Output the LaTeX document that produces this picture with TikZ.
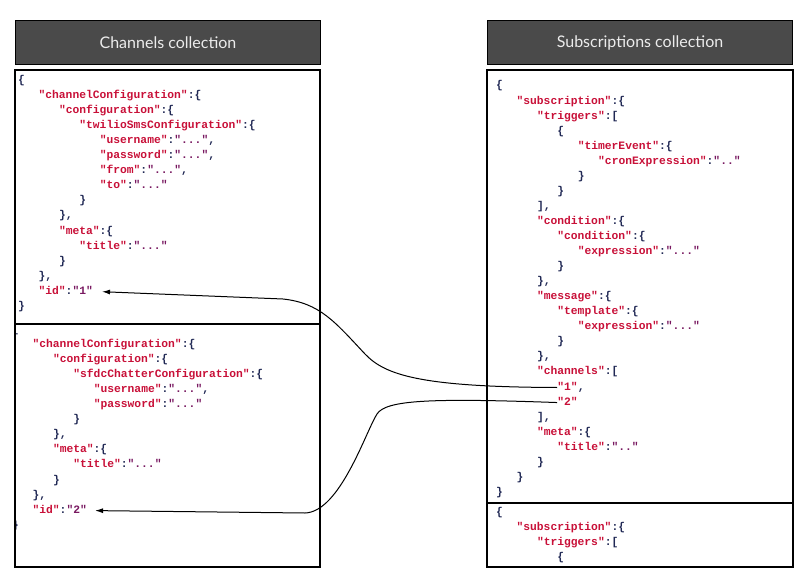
\documentclass[tikz,border=0pt]{standalone}
\usepackage{fontspec}
\setmonofont{Liberation Mono}
\newfontfamily\headfont{Lato}
\usetikzlibrary{arrows.meta}

\definecolor{jsonkey}{RGB}{200,16,56}
\definecolor{jsonval}{RGB}{120,24,96}
\definecolor{jsonpunct}{RGB}{32,40,84}
\definecolor{headfill}{RGB}{74,74,74}
\definecolor{headtext}{RGB}{236,236,236}

\newcommand\jkey[1]{\textcolor{jsonkey}{"#1"}}
\newcommand\jval[1]{\textcolor{jsonval}{"#1"}}

\tikzset{
  code/.style={anchor=west, inner sep=0pt, text height=7pt, text depth=2pt,
    font=\ttfamily\bfseries\fontsize{11.3}{13}\selectfont, text=jsonpunct},
  header/.style={draw=black, line width=1.5pt, fill=headfill, text=headtext,
    font=\headfont\fontsize{16}{18}\selectfont, minimum width=305pt,
    minimum height=44pt, inner sep=0pt},
  panel/.style={draw=black, line width=1.5pt},
  link/.style={line width=1pt, -{Latex[length=8pt,width=5pt]}},
}

\begin{document}
\begin{tikzpicture}[x=1pt,y=-1pt]
  \useasboundingbox (0,0) rectangle (808,588);

  % headers
  \node[header] (chhead) at (168,42.5) {Channels collection};
  \node[header] (subhead) at (640,42.5) {Subscriptions collection};

  % channels collection, first document
  \foreach \n/\txt [count=\i] in {0/\{, 1/{\jkey{channelConfiguration}:\{},
      2/{\jkey{configuration}:\{}, 3/{\jkey{twilioSmsConfiguration}:\{},
      4/{\jkey{username}:\jval{...},}, 4/{\jkey{password}:\jval{...},},
      4/{\jkey{from}:\jval{...},}, 4/{\jkey{to}:\jval{...}}, 3/\}, 2/{\},},
      2/{\jkey{meta}:\{}, 3/{\jkey{title}:\jval{...}}, 2/\}, 1/{\},},
      1/{\jkey{id}:\jval{1}}, 0/\}}
    \node[code] (twilio-\i) at ({18+\n*20.4},{81+(\i-1)*15.05}) {\txt};

  % channels collection, second document
  \begin{scope}
    \clip (15,324) rectangle (320,567);
    \foreach \n/\txt [count=\i] in {0/\{, 1/{\jkey{channelConfiguration}:\{},
        2/{\jkey{configuration}:\{}, 3/{\jkey{sfdcChatterConfiguration}:\{},
        4/{\jkey{username}:\jval{...},}, 4/{\jkey{password}:\jval{...}},
        3/\}, 2/{\},}, 2/{\jkey{meta}:\{}, 3/{\jkey{title}:\jval{...}},
        2/\}, 1/{\},}, 1/{\jkey{id}:\jval{2}}, 0/\}}
      \node[code] (sfdc-\i) at ({12+\n*20.4},{330+(\i-1)*15.05}) {\txt};
  \end{scope}

  % subscriptions collection, first document
  \foreach \n/\txt [count=\i] in {0/\{, 1/{\jkey{subscription}:\{},
      2/{\jkey{triggers}:[}, 3/\{, 4/{\jkey{timerEvent}:\{},
      5/{\jkey{cronExpression}:\jval{..}}, 4/\}, 3/\}, 2/{],},
      2/{\jkey{condition}:\{}, 3/{\jkey{condition}:\{},
      4/{\jkey{expression}:\jval{...}}, 3/\}, 2/{\},},
      2/{\jkey{message}:\{}, 3/{\jkey{template}:\{},
      4/{\jkey{expression}:\jval{...}}, 3/\}, 2/{\},},
      2/{\jkey{channels}:[}, 3/{\jkey{1},}, 3/{\jkey{2}}, 2/{],},
      2/{\jkey{meta}:\{}, 3/{\jkey{title}:\jval{..}}, 2/\}, 1/\}, 0/\}}
    \node[code] (sub-\i) at ({496+\n*20.4},{86.5+(\i-1)*15.05}) {\txt};

  % subscriptions collection, second document
  \foreach \n/\txt [count=\i] in {0/\{, 1/{\jkey{subscription}:\{},
      2/{\jkey{triggers}:[}, 3/\{}
    \node[code] (subnext-\i) at ({496+\n*20.4},{513+(\i-1)*15.05}) {\txt};

  % collection boxes
  \draw[panel] (15,70) rectangle (320,567);
  \draw[panel] (15,324) -- (320,324);
  \draw[panel] (487,70) rectangle (793,567);
  \draw[panel] (487,503) -- (793,503);

  % channel references
  \draw[link] (sub-21.west) .. controls (420,387) and (385,375) .. (365,354)
    .. controls (335,322) and (320,303) .. (283,299) -- ([xshift=9pt]twilio-15.east);
  \draw[link] (sub-22.west) .. controls (430,398) and (386,400) .. (377,414)
    .. controls (366,431) and (340,512) .. (305,513) -- ([xshift=8pt]sfdc-13.east);
\end{tikzpicture}
\end{document}
